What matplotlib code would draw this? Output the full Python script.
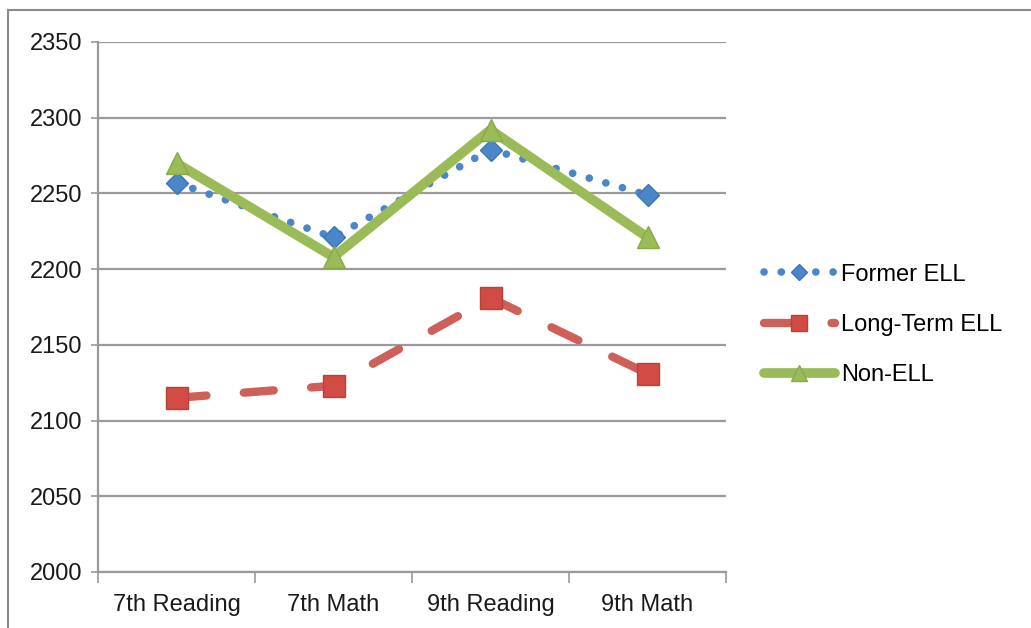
import matplotlib
matplotlib.use("Agg")
import matplotlib.pyplot as plt
from matplotlib.lines import Line2D

categories = ["7th Reading", "7th Math", "9th Reading", "9th Math"]
former_ell = [2257, 2221, 2279, 2249]
long_term_ell = [2115, 2123, 2181, 2131]
non_ell = [2270, 2208, 2292, 2221]
y_ticks = [2000, 2050, 2100, 2150, 2200, 2250, 2300, 2350]

plt.rcParams["font.family"] = ["Liberation Sans", "DejaVu Sans"]

W, H = 1031, 628
fig = plt.figure(figsize=(W / 100, H / 100), dpi=100)
ax = fig.add_axes([98 / W, 1 - 572 / H, (726 - 98) / W, (572 - 42) / H])

x = list(range(len(categories)))

ax.plot(x, former_ell, color="#4A86C8", lw=5.5, linestyle=(0, (0.01, 2.25)),
        dash_capstyle="round", marker="D", ms=11.5, mfc="#4A86C8",
        mec="#3E75B3", mew=1, label="Former ELL", zorder=3)
ax.plot(x, long_term_ell, color="#CF5F59", lw=6, linestyle=(0, (3.6, 4.5)),
        dash_capstyle="round", marker="s", ms=16, mfc="#D24B44",
        mec="#B8433D", mew=1, label="Long-Term ELL", zorder=3)
ax.plot(x, non_ell, color="#9BBB59", lw=7, solid_capstyle="round",
        marker="^", ms=16, mfc="#9BBB59", mec="#8AAA4A", mew=1,
        label="Non-ELL", zorder=4)

ax.set_ylim(2000, 2350)
ax.set_yticks(y_ticks)
ax.set_xlim(-0.5, len(categories) - 0.5)
ax.set_xticks([i - 0.5 for i in range(len(categories) + 1)])
ax.set_xticklabels([])
ax.set_xticks(x, minor=True)
ax.set_xticklabels(categories, minor=True)

grid_c = "#9a9a9a"
ax.yaxis.grid(True, color=grid_c, lw=1.6)
ax.set_axisbelow(True)
for s in ["top", "right"]:
    ax.spines[s].set_visible(False)
for s in ["left", "bottom"]:
    ax.spines[s].set_color(grid_c)
    ax.spines[s].set_linewidth(1.6)

ax.tick_params(axis="y", which="major", length=5, width=1.2, color=grid_c,
               labelsize=17, pad=6, labelcolor="#1a1a1a")
ax.tick_params(axis="x", which="major", length=8, width=1.2, color=grid_c)
ax.tick_params(axis="x", which="minor", length=0, labelsize=17, pad=16,
               labelcolor="#1a1a1a")

ax.legend(loc="center left", bbox_to_anchor=(764 / W, 1 - 325 / H),
          bbox_transform=fig.transFigure, frameon=False, fontsize=17,
          handlelength=3.0, handletextpad=0.25, labelspacing=1.2,
          markerscale=0.75, borderpad=0, borderaxespad=0)

# frame of the original screenshot
fig.add_artist(Line2D([8 / W, 8 / W], [0, 1 - 10 / H], color="#8a8a8a",
                      lw=1.5, transform=fig.transFigure))
fig.add_artist(Line2D([8 / W, 1], [1 - 10 / H, 1 - 10 / H], color="#8a8a8a",
                      lw=1.5, transform=fig.transFigure))

fig.savefig("out.png", dpi=100)
